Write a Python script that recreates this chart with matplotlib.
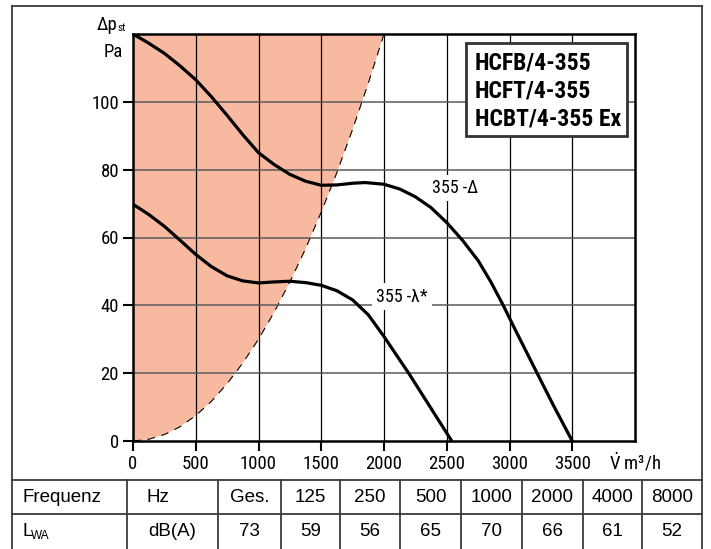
import numpy as np
import matplotlib
matplotlib.use("Agg")
import matplotlib.pyplot as plt
from matplotlib import font_manager
from matplotlib.lines import Line2D
from matplotlib.patches import Rectangle

# fan curves (airflow m3/h, static pressure Pa)
delta_x = [0, 125, 250, 375, 500, 625, 750, 875, 1000, 1125, 1250, 1375, 1500, 1625,
           1750, 1850, 2000, 2125, 2250, 2375, 2500, 2625, 2750, 2850, 2950, 3050,
           3220, 3350, 3500]
delta_y = [120, 117.3, 114.3, 110.6, 106.5, 101.5, 96, 90.3, 85, 81.5, 78.6, 76.6, 75.4, 75.5,
           76, 76.2, 75.7, 74.3, 72, 68.8, 64.4, 59.2, 53.2, 47, 40, 32.5,
           20, 10.5, 0]

star_x = [0, 125, 250, 375, 500, 625, 750, 875, 1000, 1125, 1250, 1375, 1500, 1625,
          1750, 1875, 2000, 2100, 2200, 2370, 2540]
star_y = [69.8, 66.8, 63.3, 59.2, 55, 51.4, 48.7, 47.2, 46.6, 46.9, 47.1, 46.7, 45.9, 44.3,
          41.6, 37.2, 30.8, 25.3, 19.8, 9.9, 0]

# limit curve of the shaded (unstable) area
limit_x = [0, 125, 250, 375, 500, 625, 750, 875, 1000, 1125, 1250, 1375, 1500, 1625,
           1750, 1875, 2000]
limit_y = [0, 0.5, 1.9, 4.2, 7.5, 11.7, 16.9, 23, 30, 38, 46.9, 56.7, 67.5, 79.2,
           91.9, 105.5, 120]

curve_labels = ["355 -Δ", "355 -λ*"]
label_pos = [(2570, 74.5), (2140, 42.6)]

models = ["HCFB/4-355", "HCFT/4-355", "HCBT/4-355 Ex"]

x_ticks = [0, 500, 1000, 1500, 2000, 2500, 3000, 3500]
y_ticks = [0, 20, 40, 60, 80, 100]

freq_header = ["Frequenz", "Hz", "Ges.", "125", "250", "500", "1000", "2000", "4000", "8000"]
lwa_values = ["73", "59", "56", "65", "70", "66", "61", "52"]

W, H = 711, 549

fonts = font_manager.fontManager.ttflist
names = {f.name for f in fonts}
candidates = ["Liberation Sans Narrow", "Roboto Condensed", "PT Sans Narrow", "Archivo Narrow",
              "Fira Sans Condensed", "IBM Plex Sans Condensed", "Roboto"]
narrow = next((c for c in candidates if c in names), "DejaVu Sans")
narrow_bold = next((c for c in candidates
                    if any(f.name == c and f.weight in (600, 700, "bold", "semibold")
                           for f in fonts)), narrow)
nfam = [narrow, "Liberation Sans", "DejaVu Sans"]
bfam = [narrow_bold, "Liberation Sans", "DejaVu Sans"]
regular = "Liberation Sans"

plt.rcParams["mathtext.fontset"] = "custom"
plt.rcParams["mathtext.rm"] = narrow
plt.rcParams["mathtext.it"] = narrow

fig = plt.figure(figsize=(W / 100, H / 100), dpi=100)
ax = fig.add_axes([133 / W, 1 - 441 / H, (635 - 133) / W, (441 - 34) / H])

ax.fill(limit_x + [0], limit_y + [120], color="#f8b9a1", lw=0, zorder=1)
ax.plot(limit_x, limit_y, color="black", lw=0.8, ls=(0, (7, 6)), zorder=2)

for v in range(500, 4000, 500):
    ax.axvline(v, color="black", lw=0.9, zorder=3)
for v in range(20, 120, 20):
    ax.axhline(v, color="#5a5a5a", lw=1.1, zorder=3)

ax.plot(delta_x, delta_y, color="black", lw=2.3, solid_capstyle="butt",
        solid_joinstyle="round", zorder=5)
ax.plot(star_x, star_y, color="black", lw=2.3, solid_capstyle="butt",
        solid_joinstyle="round", zorder=5)

for txt, (lx, ly) in zip(curve_labels, label_pos):
    ax.text(lx, ly, txt, family=nfam, fontsize=13, ha="center", va="center", zorder=6,
            bbox=dict(facecolor="white", edgecolor="none", pad=3))

ax.set_xlim(0, 4000)
ax.set_ylim(0, 120)
ax.set_xticks(x_ticks)
ax.set_yticks(y_ticks)
ax.tick_params(direction="out", length=7, width=1.5, color="black", pad=3)
for lab in ax.get_xticklabels() + ax.get_yticklabels():
    lab.set_family(nfam)
    lab.set_fontsize(13.5)
for s in ax.spines.values():
    s.set_linewidth(1.8)
    s.set_zorder(7)


def px(x, y):
    return x / W, 1 - y / H


# model box
fig.add_artist(Rectangle(px(466, 136), 161 / W, 93 / H, facecolor="white",
                         edgecolor="#333333", lw=2, zorder=8))
for i, m in enumerate(models):
    fig.text(*px(475, 63 + 28 * i), m, family=bfam, fontsize=17, fontweight="bold",
             ha="left", va="center", zorder=9)

# axis captions
fig.text(*px(97, 25), "Δp", family=nfam, fontsize=13.5, ha="left", va="center")
fig.text(*px(117, 28), "st", family=nfam, fontsize=8, ha="left", va="center")
fig.text(*px(123, 52), "Pa", family=nfam, fontsize=13.5, ha="right", va="center")
fig.text(*px(609, 462), r"$\dot{\mathrm{V}}$ m³/h", family=nfam, fontsize=13.5,
         ha="left", va="center")

# frame and sound table
gray = "#3a3a3a"
lines = [((12, 12), (6, 560)), ((702, 702), (6, 560)), ((12, 702), (6, 6)),
         ((12, 702), (480, 480)), ((12, 702), (514, 514))]
for c in [127, 218, 281, 340, 400, 461, 522, 583, 642]:
    lines.append(((c, c), (480, 560)))
for xs, ys in lines:
    fig.add_artist(Line2D([x / W for x in xs], [1 - y / H for y in ys],
                          color=gray, lw=1.3))

edges = [12, 127, 218, 281, 340, 400, 461, 522, 583, 642, 702]
row1, row2 = 497, 532
fig.text(*px(22, row1), freq_header[0], family=regular, fontsize=13.5, ha="left", va="center")
fig.text(*px(146, row1), freq_header[1], family=regular, fontsize=13.5, ha="left", va="center")
for i, t in enumerate(freq_header[2:]):
    cx = (edges[i + 2] + edges[i + 3]) / 2
    fig.text(*px(cx, row1), t, family=regular, fontsize=13.5, ha="center", va="center")
fig.text(*px(22, row2), "L", family=regular, fontsize=13.5, ha="left", va="center")
fig.text(*px(31, row2 + 4), "WA", family=regular, fontsize=8.5, ha="left", va="center")
fig.text(*px((edges[1] + edges[2]) / 2, row2), "dB(A)", family=regular, fontsize=13.5,
         ha="center", va="center")
for i, t in enumerate(lwa_values):
    cx = (edges[i + 2] + edges[i + 3]) / 2
    fig.text(*px(cx, row2), t, family=regular, fontsize=13.5, ha="center", va="center")

fig.savefig("out.png", dpi=100)
